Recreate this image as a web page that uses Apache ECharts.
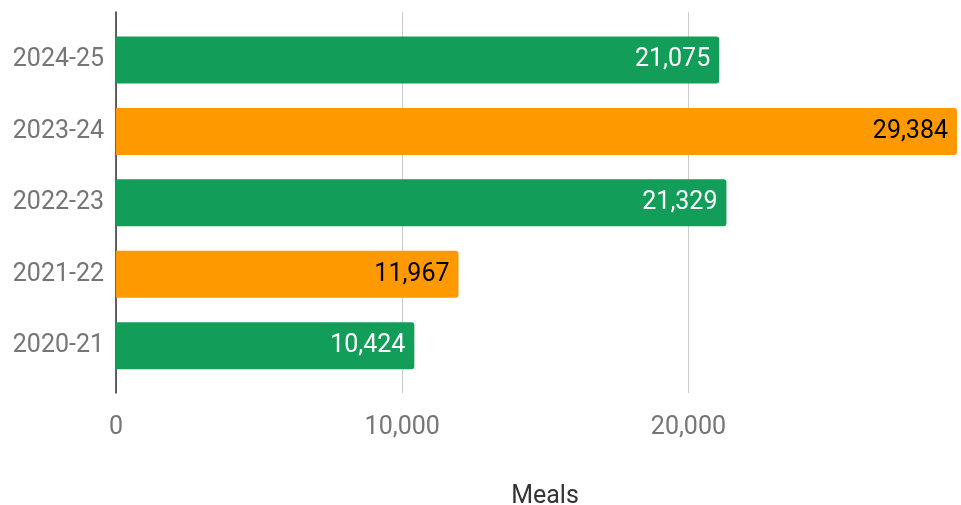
<!DOCTYPE html>
<html>
<head>
<meta charset="utf-8">
<script src="https://cdn.jsdelivr.net/npm/echarts@6/dist/echarts.min.js"></script>
<style>
  html, body { margin: 0; padding: 0; background: #fff; }
  #chart { width: 961px; height: 505px; }
</style>
</head>
<body>
<div id="chart"></div>
<script>
// seasons listed bottom to top
const seasons = ['2020-21', '2021-22', '2022-23', '2023-24', '2024-25'];
const meals = [10424, 11967, 21329, 29384, 21075];
const xTicks = [0, 10000, 20000];

const green = '#129e58';
const orange = '#ff9900';
const axisMax = 29384;
const font = 'Roboto';
const fs = 25;

const chart = echarts.init(document.getElementById('chart'), null, { renderer: 'canvas' });

const fmt = v => v.toLocaleString('en-US');

chart.setOption({
  animation: false,
  textStyle: { fontFamily: font },
  grid: [
    // frame: axis line + gridlines
    { left: 116, right: 4, top: 12, bottom: 112, containLabel: false, outerBoundsMode: 'none' },
    // bars
    { left: 116, right: 4, top: 24.3, bottom: 123.6, containLabel: false, outerBoundsMode: 'none' }
  ],
  xAxis: [
    {
      gridIndex: 0, type: 'value', min: 0, max: axisMax, interval: 10000,
      axisLine: { show: false }, axisTick: { show: false },
      splitLine: { show: true, showMaxLine: false, lineStyle: { color: '#cccccc', width: 1 } },
      axisLabel: {
        color: '#757575', fontSize: fs, fontFamily: font, margin: 22,
        showMaxLabel: false,
        formatter: v => xTicks.includes(v) ? fmt(v) : ''
      },
      name: 'Meals', nameLocation: 'middle', nameGap: 91,
      nameTextStyle: { color: '#333333', fontSize: fs, fontFamily: font, padding: [0, 0, 0, 17] }
    },
    { gridIndex: 1, type: 'value', min: 0, max: axisMax, show: false }
  ],
  yAxis: [
    {
      gridIndex: 0, type: 'value', min: 0, max: 1,
      axisLine: { show: true, lineStyle: { color: '#333333', width: 1.5 } },
      axisTick: { show: false }, axisLabel: { show: false }, splitLine: { show: false }
    },
    {
      gridIndex: 1, type: 'category', data: seasons,
      axisLine: { show: false }, axisTick: { show: false },
      axisLabel: { color: '#757575', fontSize: fs, fontFamily: font, margin: 12 }
    }
  ],
  series: [{
    type: 'bar',
    xAxisIndex: 1, yAxisIndex: 1,
    barWidth: 47,
    data: meals.map((v, i) => ({
      value: v,
      itemStyle: { color: i % 2 === 0 ? green : orange, borderRadius: [0, 3, 3, 0] },
      label: { color: i % 2 === 0 ? '#ffffff' : '#000000' }
    })),
    label: {
      show: true, position: 'insideRight', distance: 9,
      fontSize: fs, fontFamily: font,
      formatter: p => fmt(p.value)
    }
  }]
});
</script>
</body>
</html>
